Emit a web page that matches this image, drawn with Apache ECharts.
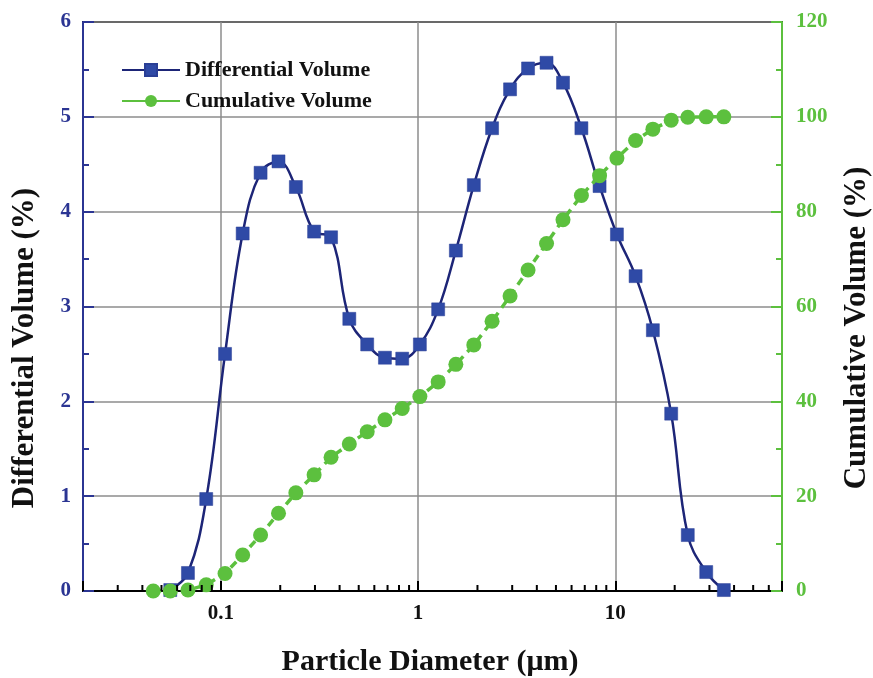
<!DOCTYPE html>
<html>
<head>
<meta charset="utf-8">
<title>Particle size distribution</title>
<script src="https://cdn.jsdelivr.net/npm/echarts@6/dist/echarts.min.js"></script>
<style>
  html, body { margin: 0; padding: 0; background: #fff; }
  #chart { width: 873px; height: 678px; }
</style>
</head>
<body>
<div id="chart"></div>
<script>
// Particle diameters (µm) of the size bins
const diameters = [0.0454, 0.0554, 0.0681, 0.0843, 0.105, 0.129, 0.159, 0.196, 0.240, 0.297,
  0.362, 0.448, 0.552, 0.679, 0.831, 1.021, 1.264, 1.554, 1.917, 2.372,
  2.926, 3.61, 4.48, 5.43, 6.73, 8.32, 10.19, 12.67, 15.5, 19.2,
  23.3, 28.9, 35.5];

// Differential volume (%) for bins 2..33
const differentialVolume = [0.01, 0.19, 0.97, 2.50, 3.77, 4.41, 4.53, 4.26, 3.79, 3.73,
  2.87, 2.60, 2.46, 2.45, 2.60, 2.97, 3.59, 4.28, 4.88, 5.29,
  5.51, 5.57, 5.36, 4.88, 4.27, 3.76, 3.32, 2.75, 1.87, 0.59,
  0.20, 0.01];

// Cumulative volume (%) for all bins
const cumulativeVolume = [0, 0, 0.2, 1.3, 3.7, 7.6, 11.8, 16.4, 20.7, 24.5,
  28.2, 31.0, 33.6, 36.1, 38.5, 41.0, 44.1, 47.8, 51.9, 56.9,
  62.2, 67.7, 73.3, 78.3, 83.4, 87.6, 91.3, 95.0, 97.4, 99.3,
  99.9, 100, 100];

// Minor tick positions on the logarithmic diameter axis
const minorTickValues = [0.03, 0.04, 0.05, 0.06, 0.07, 0.08, 0.09,
  0.2, 0.3, 0.4, 0.5, 0.6, 0.7, 0.8, 0.9,
  2, 3, 4, 5, 6, 7, 8, 9,
  20, 30, 40, 50, 60];

const seriesNames = ['Differential Volume', 'Cumulative Volume'];

const FONT = '"Liberation Serif", "Times New Roman", serif';
const BLUE_LINE = '#1d2577';
const BLUE_MARK = '#2f4aa6';
const BLUE_AXIS = '#2b3593';
const GREEN = '#5cc03e';
const GRID_GRAY = '#8c8c8c';

const diffData = differentialVolume.map((v, i) => [diameters[i + 1], v]);
const cumData = cumulativeVolume.map((v, i) => [diameters[i], v]);

function isDecade(v) {
  const e = Math.log10(v);
  return Math.abs(e - Math.round(e)) < 1e-6;
}

const chart = echarts.init(document.getElementById('chart'), null, { renderer: 'canvas' });

chart.setOption({
  animation: false,
  backgroundColor: '#fff',
  grid: {
    left: 83, right: 91, top: 22, bottom: 87,
    show: true, borderColor: '#000', borderWidth: 2, backgroundColor: 'transparent'
  },
  legend: {
    orient: 'vertical',
    left: 116, top: 54,
    itemWidth: 58, itemHeight: 15, itemGap: 9,
    textStyle: { fontFamily: FONT, fontWeight: 'bold', fontSize: 22, color: '#111' },
    data: [
      { name: seriesNames[0] },
      { name: seriesNames[1], lineStyle: { type: 'solid' } }
    ]
  },
  xAxis: {
    type: 'log',
    logBase: 10,
    min: 0.02,
    max: 70,
    axisLine: { show: true, onZero: false, lineStyle: { color: '#000', width: 2 } },
    axisTick: { show: true, inside: true, length: 10, lineStyle: { color: '#000', width: 2 } },
    axisLabel: {
      margin: 12,
      fontFamily: FONT, fontWeight: 'bold', fontSize: 21, color: '#111',
      formatter: v => isDecade(v) ? String(parseFloat(v.toPrecision(6))) : ''
    },
    splitLine: { show: true, lineStyle: { color: GRID_GRAY, width: 1.5 } },
    minorTick: { show: false },
    minorSplitLine: { show: false }
  },
  yAxis: [
    {
      type: 'value', min: 0, max: 6, interval: 1, position: 'left',
      axisLine: { show: true, lineStyle: { color: BLUE_AXIS, width: 2 } },
      axisTick: { show: true, inside: true, length: 11, lineStyle: { color: BLUE_AXIS, width: 2 } },
      minorTick: { show: true, splitNumber: 2, length: 6, lineStyle: { color: BLUE_AXIS, width: 2 } },
      axisLabel: { margin: 12, fontFamily: FONT, fontWeight: 'bold', fontSize: 21, color: BLUE_AXIS },
      splitLine: { show: true, lineStyle: { color: GRID_GRAY, width: 1.5 } }
    },
    {
      type: 'value', min: 0, max: 120, interval: 20, position: 'right',
      axisLine: { show: true, lineStyle: { color: GREEN, width: 2 } },
      axisTick: { show: true, inside: true, length: 11, lineStyle: { color: GREEN, width: 2 } },
      minorTick: { show: true, splitNumber: 2, length: 6, lineStyle: { color: GREEN, width: 2 } },
      axisLabel: { margin: 14, fontFamily: FONT, fontWeight: 'bold', fontSize: 21, color: GREEN },
      splitLine: { show: false }
    }
  ],
  graphic: [
    {
      type: 'text', x: 430, y: 662, z: 10,
      style: {
        text: 'Particle Diameter (\u03bcm)', fill: '#111',
        font: 'bold 30px ' + FONT, align: 'center', verticalAlign: 'middle'
      }
    },
    {
      type: 'text', x: 25, y: 348, rotation: Math.PI / 2, z: 10,
      style: {
        text: 'Differential Volume (%)', fill: '#111',
        font: 'bold 31px ' + FONT, align: 'center', verticalAlign: 'middle'
      }
    },
    {
      type: 'text', x: 857, y: 328, rotation: Math.PI / 2, z: 10,
      style: {
        text: 'Cumulative Volume (%)', fill: '#111',
        font: 'bold 31px ' + FONT, align: 'center', verticalAlign: 'middle'
      }
    }
  ],
  series: [
    {
      name: seriesNames[0],
      type: 'line',
      xAxisIndex: 0, yAxisIndex: 0,
      data: diffData,
      smooth: 0.4,
      symbol: 'rect',
      symbolSize: 13,
      lineStyle: { color: BLUE_LINE, width: 2.5 },
      itemStyle: { color: BLUE_MARK, borderColor: '#2a3f96', borderWidth: 0.5 },
      z: 3
    },
    {
      name: seriesNames[1],
      type: 'line',
      xAxisIndex: 0, yAxisIndex: 1,
      data: cumData,
      symbol: 'circle',
      symbolSize: 15,
      lineStyle: { color: GREEN, width: 3.5, type: [8, 6] },
      itemStyle: { color: GREEN },
      z: 4
    },
    {
      // minor ticks along the logarithmic diameter axis
      name: 'minorTicks',
      type: 'custom',
      xAxisIndex: 0, yAxisIndex: 0,
      silent: true,
      z: 5,
      data: minorTickValues.map(v => [v, 0]),
      renderItem: function (params, api) {
        const p = api.coord([api.value(0), 0]);
        return {
          type: 'line',
          shape: { x1: p[0], y1: p[1], x2: p[0], y2: p[1] - 6 },
          style: { stroke: '#000', lineWidth: 2 }
        };
      }
    }
  ]
});
</script>
</body>
</html>
